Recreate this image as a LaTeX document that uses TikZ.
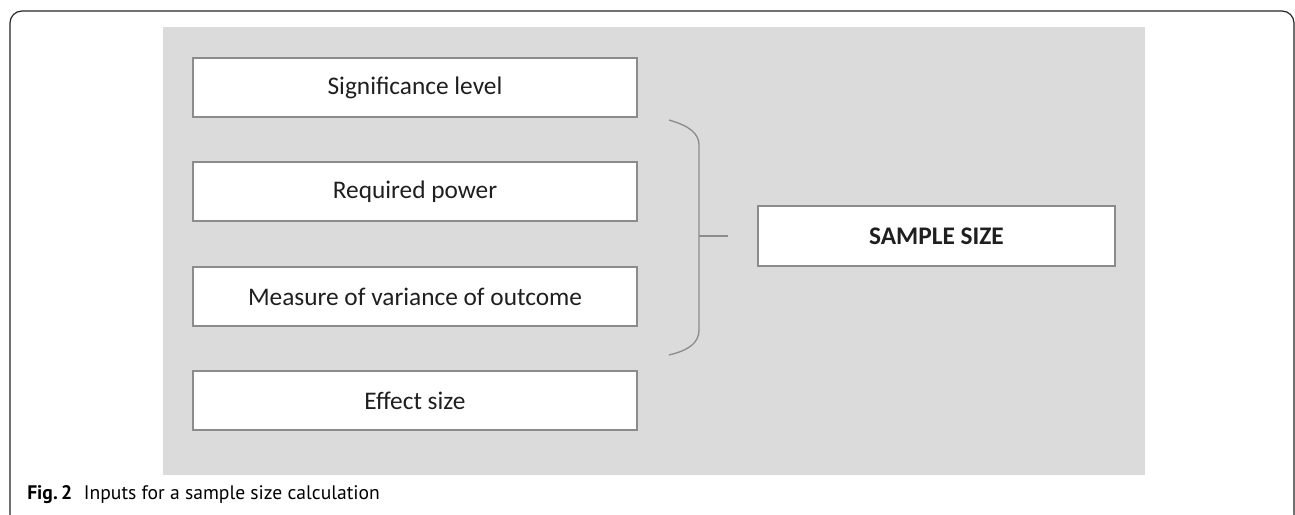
\documentclass[tikz,border=0pt]{standalone}
\usepackage{fontspec}
\setmainfont{Carlito}
\newfontfamily\capfont{PT Sans}
\begin{document}
\begin{tikzpicture}[x=0.75pt,y=-0.75pt,
  inbox/.style={draw=black!45,fill=white,line width=1pt,minimum width=444*0.75pt,minimum height=59*0.75pt,inner sep=0pt,font=\fontsize{19}{22}\selectfont,text=black!88},
  outbox/.style={inbox,minimum width=357*0.75pt,minimum height=60*0.75pt,font=\fontsize{19}{22}\selectfont\bfseries},
  brace/.style={draw=black!45,line width=1pt}]
\useasboundingbox (0,0) rectangle (1295,514);
\fill[white] (0,0) rectangle (1295,514);
% outer frame
\draw[black!85,line width=0.9pt,rounded corners=9pt] (10,520) -- (10,11) -- (1294,11) -- (1294,520);
% gray panel
\fill[black!14] (163,27) rectangle (1145,475);
% input boxes
\node[inbox] (sig) at (415,87.5) {Significance level};
\node[inbox] (pow) at (415,191.5) {Required power};
\node[inbox] (var) at (415,296.5) {Measure of variance of outcome};
\node[inbox] (eff) at (415,400.5) {Effect size};
\node[outbox] (ss) at (936.5,236) {SAMPLE SIZE};
% brace
\coordinate (btop) at (669,120);
\coordinate (bbot) at (669,355);
\coordinate (bmid) at (699,236);
\coordinate (tick) at (728,236);
\draw[brace] (btop) .. controls (690,126) and (699,134) .. (699,145) -- (699,330) .. controls (699,342) and (690,350) .. (bbot);
\draw[brace] (bmid) -- (tick);
% caption
\node[anchor=base west,inner sep=0pt,font=\capfont\fontsize{14.7}{17}\selectfont] (cap) at (27,499) {\textbf{Fig.\,2}\hspace{0.6em}Inputs for a sample size calculation};
\end{tikzpicture}
\end{document}
